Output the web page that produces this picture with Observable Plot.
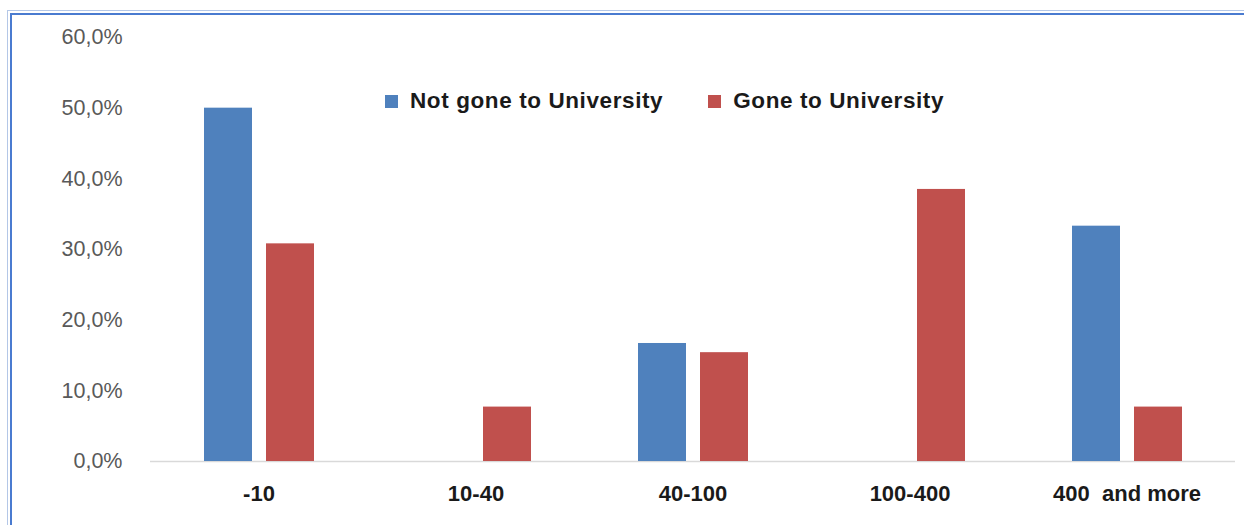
<!DOCTYPE html>
<html>
<head>
<meta charset="utf-8">
<script src="https://cdn.jsdelivr.net/npm/d3@7"></script>
<script src="https://cdn.jsdelivr.net/npm/@observablehq/plot@0.6"></script>
<style>
  html, body { margin: 0; padding: 0; background: #fff; }
  #wrap { position: relative; width: 1244px; height: 525px; overflow: hidden; background: #fff; }
  .frame-outer { position: absolute; left: 7px; top: 10px; right: -5px; bottom: -5px; border-left: 1px solid #b4c7e7; border-top: 1px solid #b4c7e7; }
  .frame-inner { position: absolute; left: 10px; top: 13px; right: -5px; bottom: -5px; border-left: 2px solid #4a7bd0; border-top: 2px solid #4a7bd0; }
  #chart { position: absolute; left: 0; top: 0; }
  #chart svg text { white-space: pre; }
  #chart .yax text { fill: #595959; font-size: 21.5px; font-family: "Liberation Sans", Arial, sans-serif; }
  #chart .fxax text { fill: #1a1a1a; font-size: 22px; font-weight: bold; font-family: "Liberation Sans", Arial, sans-serif; }
  .legend { position: absolute; top: 88px; left: 385px; display: flex; align-items: center; font-family: "Liberation Sans", Arial, sans-serif; font-weight: bold; font-size: 22.5px; letter-spacing: 0.6px; color: #1a1a1a; white-space: pre; }
  .legend .sw { display: inline-block; width: 13px; height: 13px; margin-right: 12px; }
  .legend .item { display: flex; align-items: center; }
</style>
</head>
<body>
<div id="wrap">
  <div class="frame-outer"></div>
  <div class="frame-inner"></div>
  <div id="chart"></div>
  <div class="legend" id="legend"></div>
</div>
<script>
const categories = ["-10", "10-40", "40-100", "100-400", "400  and more"];
const seriesNames = ["Not gone to University", "Gone to University"];
const seriesColors = ["#4f81bd", "#c0504d"];
const notGoneValues = [50.0, 0, 16.7, 0, 33.3];
const goneValues = [30.8, 7.7, 15.4, 38.5, 7.7];
const yTicks = [0, 10, 20, 30, 40, 50, 60];

const rows = [];
categories.forEach((c, i) => {
  rows.push({cat: c, series: seriesNames[0], value: notGoneValues[i]});
  rows.push({cat: c, series: seriesNames[1], value: goneValues[i]});
});

const fmt = d => d.toFixed(1).replace(".", ",") + "%";

const chart = Plot.plot({
  width: 1244,
  height: 525,
  marginLeft: 148,
  marginRight: 7,
  marginTop: 37,
  marginBottom: 64,
  style: {background: "transparent", overflow: "visible"},
  fx: {domain: categories, padding: 0},
  x: {domain: seriesNames, paddingInner: 0.23, paddingOuter: 0.85, axis: null},
  y: {domain: [0, 60]},
  color: {domain: seriesNames, range: seriesColors},
  marks: [
    Plot.axisY({ticks: yTicks, tickSize: 0, tickPadding: 28, tickFormat: fmt, label: null, className: "yax"}),
    Plot.axisFx({anchor: "bottom", tickSize: 0, tickPadding: 24, label: null, className: "fxax"}),
    Plot.ruleY([0], {stroke: "#d9d9d9", strokeWidth: 1.5}),
    Plot.barY(rows.filter(d => d.value > 0), {fx: "cat", x: "series", y: "value", fill: "series"})
  ]
});
document.getElementById("chart").appendChild(chart);

const legend = document.getElementById("legend");
seriesNames.forEach((name, i) => {
  const item = document.createElement("div");
  item.className = "item";
  if (i > 0) item.style.marginLeft = "45px";
  const sw = document.createElement("span");
  sw.className = "sw";
  sw.style.background = seriesColors[i];
  const t = document.createElement("span");
  t.textContent = name;
  item.appendChild(sw);
  item.appendChild(t);
  legend.appendChild(item);
});
</script>
</body>
</html>
